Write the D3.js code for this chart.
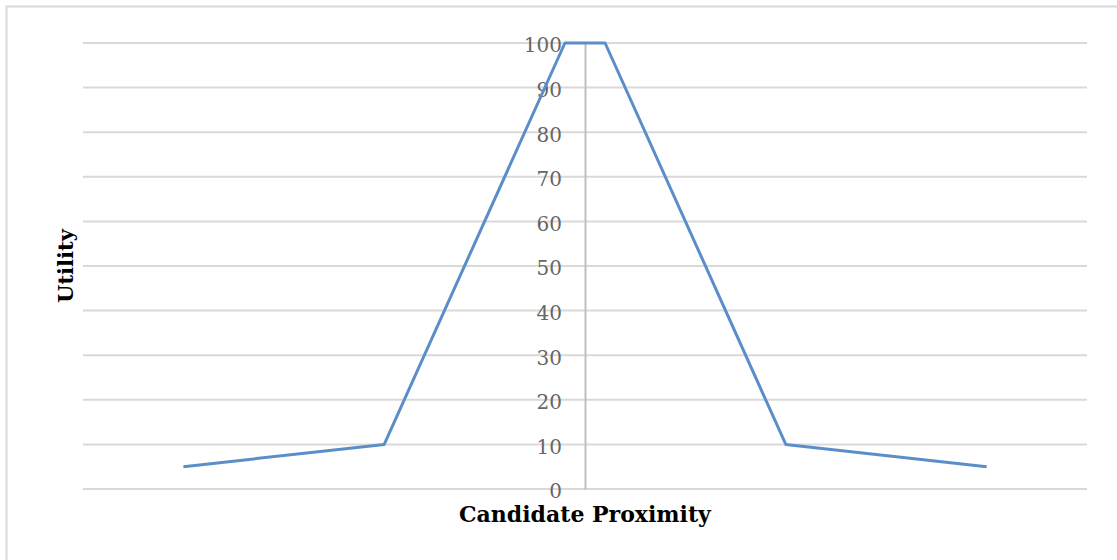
<!DOCTYPE html>
<html>
<head>
<meta charset="utf-8">
<script src="https://cdn.jsdelivr.net/npm/d3@7"></script>
<style>
  html, body { margin: 0; padding: 0; background: #fff; }
  svg { display: block; }
</style>
</head>
<body>
<div id="chart"></div>
<script>
// Utility as a function of candidate proximity (distance from the voter)
const proximity = [-2, -1, -0.1, 0.1, 1, 2];
const utility = [5, 10, 100, 100, 10, 5];
const yTicks = [0, 10, 20, 30, 40, 50, 60, 70, 80, 90, 100];
const xTitle = "Candidate Proximity";
const yTitle = "Utility";

const W = 1117, H = 560;
const plot = { left: 83, right: 1087, top: 43, bottom: 489 };
const serif = "'DejaVu Serif', 'Liberation Serif', serif";

const svg = d3.select("#chart").append("svg")
  .attr("width", W).attr("height", H);

// outer frame
svg.append("rect")
  .attr("x", 6.5).attr("y", 6.5)
  .attr("width", W + 10).attr("height", H + 10)
  .attr("fill", "none").attr("stroke", "#d9d9d9").attr("stroke-width", 2);

const x = d3.scaleLinear().domain([-2.5, 2.5]).range([plot.left, plot.right]);
const y = d3.scaleLinear().domain([0, 100]).range([plot.bottom, plot.top]);

// horizontal gridlines
svg.append("g")
  .selectAll("line")
  .data(yTicks)
  .join("line")
  .attr("x1", plot.left).attr("x2", plot.right)
  .attr("y1", d => y(d)).attr("y2", d => y(d))
  .attr("stroke", "#d9d9d9").attr("stroke-width", 2);

// vertical axis at zero proximity
const yAxis = d3.axisLeft(y).tickValues(yTicks).tickSize(0).tickPadding(23);
const gy = svg.append("g").attr("transform", `translate(${x(0)},0)`).call(yAxis);
gy.select(".domain").attr("stroke", "#bfbfbf").attr("stroke-width", 2);
gy.selectAll("text")
  .attr("fill", "#666666")
  .attr("font-family", serif)
  .attr("font-size", 20)
  .attr("dy", "0.44em");

// utility line
const line = d3.line().x((d, i) => x(proximity[i])).y(d => y(d));
svg.append("path")
  .datum(utility)
  .attr("d", line)
  .attr("fill", "none")
  .attr("stroke", "#5b8ec9")
  .attr("stroke-width", 3)
  .attr("stroke-linejoin", "round");

// axis titles
svg.append("text")
  .attr("x", x(0)).attr("y", 522)
  .attr("text-anchor", "middle")
  .attr("font-family", serif)
  .attr("font-weight", "bold")
  .attr("font-size", 22)
  .attr("fill", "#000")
  .text(xTitle);

svg.append("text")
  .attr("transform", `translate(73,${(plot.top + plot.bottom) / 2}) rotate(-90)`)
  .attr("text-anchor", "middle")
  .attr("font-family", serif)
  .attr("font-weight", "bold")
  .attr("font-size", 21)
  .attr("fill", "#000")
  .text(yTitle);
</script>
</body>
</html>
